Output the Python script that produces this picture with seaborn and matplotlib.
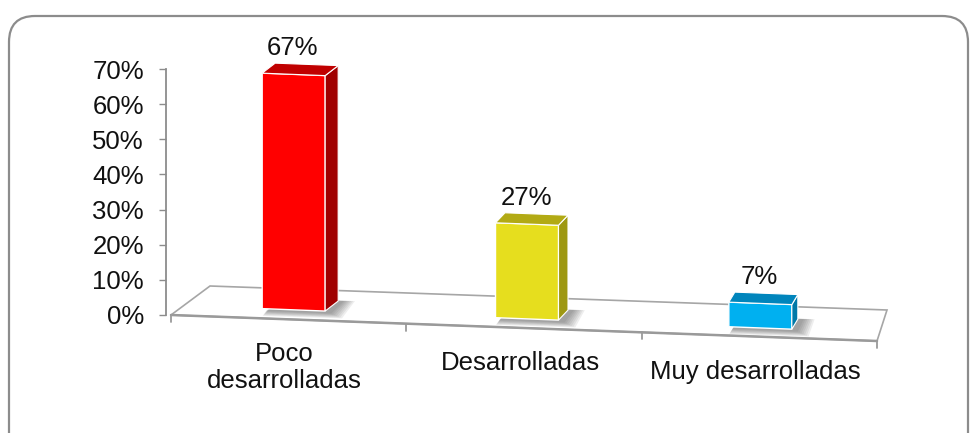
import numpy as np
import pandas as pd
import matplotlib
matplotlib.use("Agg")
import matplotlib.pyplot as plt
import seaborn as sns
from matplotlib.patches import Polygon, FancyBboxPatch
from matplotlib.transforms import Affine2D, IdentityTransform
from matplotlib.lines import Line2D

# ---------------- data ----------------
categories = ["Poco\ndesarrolladas", "Desarrolladas", "Muy desarrolladas"]
values = [0.67, 0.27, 0.07]
value_labels = ["67%", "27%", "7%"]
y_ticks = [0.0, 0.1, 0.2, 0.3, 0.4, 0.5, 0.6, 0.7]
y_tick_labels = ["0%", "10%", "20%", "30%", "40%", "50%", "60%", "70%"]
front_colors = ["#FF0000", "#E6DE1E", "#00B0F0"]
side_colors = ["#A00000", "#9E9812", "#0079A8"]
top_colors = ["#C00000", "#B2AA14", "#0085BC"]

# ---------------- figure ----------------
W, H, DPI = 971, 433, 100
sns.set_theme(style="white")
plt.rcParams["font.family"] = ["Liberation Sans", "DejaVu Sans"]

fig = plt.figure(figsize=(W / DPI, H / DPI), dpi=DPI)
fig.patch.set_facecolor("white")

ax_l, ax_r, ax_t, ax_b = 171, 877, 69, 315   # image pixel box of the plot area
ax = fig.add_axes([ax_l / W, (H - ax_b) / H, (ax_r - ax_l) / W, (ax_b - ax_t) / H])
ax.set_facecolor("none")

df = pd.DataFrame({"category": categories, "value": values})
sns.barplot(data=df, x="category", y="value", hue="category", order=categories,
            hue_order=categories, palette=front_colors, saturation=1, width=0.27,
            legend=False, ax=ax, edgecolor="white", linewidth=1.0, zorder=5)
ax.set_xlim(-0.5, 2.5)
ax.set_ylim(0, 0.70)

# axes styling
for s in ("top", "right", "bottom"):
    ax.spines[s].set_visible(False)
ax.spines["left"].set_position(("outward", 3.6))
ax.spines["left"].set_color("#8C8C8C")
ax.spines["left"].set_linewidth(1.3)
ax.set_yticks(y_ticks, y_tick_labels)
ax.set_xticks([])
ax.set_xlabel("")
ax.set_ylabel("")
ax.tick_params(axis="y", left=True, direction="out", length=5, width=1,
               color="#8C8C8C", labelsize=18.5, pad=11, labelcolor="#111111")

# ---------------- pseudo 3-D perspective ----------------
k = 0.0385                    # floor slope (display px per px)
s0 = 9.7                      # lift of the bar bases at the left of the plot area
hx = 0.0085                   # slight horizontal perspective compression
shear = Affine2D(np.array([[1.0 - hx, 0.0, 5 + hx * 290],
                           [-k, 1.0, s0 + k * ax_l],
                           [0.0, 0.0, 1.0]]))
T = ax.transData + shear
ident = IdentityTransform()

# floor
x0d, x1d = ax_l, ax_r
y0d = H - ax_b
FL = np.array([x0d, y0d])
FR = np.array([x1d, y0d - 26])
BL = FL + np.array([39, 29])
BR = FR + np.array([10, 31])
floor = Polygon([FL, FR, BR, BL], closed=True, transform=ident, facecolor="white",
                edgecolor="#A6A6A6", linewidth=1.2, zorder=1, clip_on=False)
ax.add_patch(floor)
ax.add_line(Line2D([FL[0], FR[0]], [FL[1], FR[1]], transform=ident, color="#9A9A9A",
                   linewidth=1.8, zorder=1.2, clip_on=False))


def front_edge_y(xd):
    return FL[1] + (FR[1] - FL[1]) * (xd - FL[0]) / (FR[0] - FL[0])


# category boundary ticks on the floor front edge
for b in np.arange(-0.5, len(categories), 1.0):
    xd = ax.transData.transform((b, 0))[0]
    yd = front_edge_y(xd)
    ax.add_line(Line2D([xd, xd], [yd, yd - 7], transform=ident, color="#9A9A9A",
                       linewidth=1.3, zorder=1.2, clip_on=False))

# bars: front faces from seaborn, side/top faces derived from their geometry
bars = sorted([p for c in ax.containers for p in c], key=lambda p: p.get_x())
for i, bar in enumerate(bars):
    bx, bw, bh = bar.get_x(), bar.get_width(), bar.get_height()
    pts = T.transform([(bx, 0), (bx + bw, 0), (bx + bw, bh), (bx, bh)])
    BLb, BRb, TRb, TLb = pts
    bar.set_transform(T)
    bar.set_clip_on(False)
    xc = (BLb[0] + BRb[0]) / 2
    d = np.array([13 - 0.015 * (xc - 293), 10.0])

    # soft shadow on the floor
    for j in range(7):
        grow = 1 + j * 1.8
        sh = [BLb + np.array([4 - grow * 0.3, -2 - grow * 0.45]),
              BRb + np.array([5 + grow, -2 - grow * 0.45]),
              BRb + d + np.array([5 + grow, 0]),
              BLb + d + np.array([5, 0])]
        ax.add_patch(Polygon(sh, closed=True, transform=ident, facecolor="#444444",
                             edgecolor="none", alpha=0.09, zorder=3, clip_on=False))

    side = Polygon([BRb, BRb + d, TRb + d, TRb], closed=True, transform=ident,
                   facecolor=side_colors[i], edgecolor="white", linewidth=0.8,
                   zorder=5, clip_on=False)
    top = Polygon([TLb, TRb, TRb + d, TLb + d], closed=True, transform=ident,
                  facecolor=top_colors[i], edgecolor="white", linewidth=0.8,
                  zorder=5, clip_on=False)
    ax.add_patch(side)
    ax.add_patch(top)

    # value label
    ax.text(xc - 1, TLb[1] + 18, value_labels[i], transform=ident, ha="center",
            va="baseline", fontsize=18.5, color="#111111", zorder=6, clip_on=False)

# category labels under the floor
for i, cat in enumerate(categories):
    xd = ax.transData.transform((i, 0))[0] - 4
    yd = front_edge_y(xd) - 23
    ax.text(xd, yd, cat, transform=ident, ha="center", va="top", fontsize=18.5,
            color="#111111", linespacing=1.15, zorder=6, clip_on=False)

# rounded chart frame
frame = FancyBboxPatch((9, -40), 959, H - 16 + 40,
                       boxstyle="round,pad=0,rounding_size=26",
                       transform=ident, fill=False, edgecolor="#8C8C8C", linewidth=1.6)
fig.add_artist(frame)

fig.savefig("out.png", dpi=DPI)
